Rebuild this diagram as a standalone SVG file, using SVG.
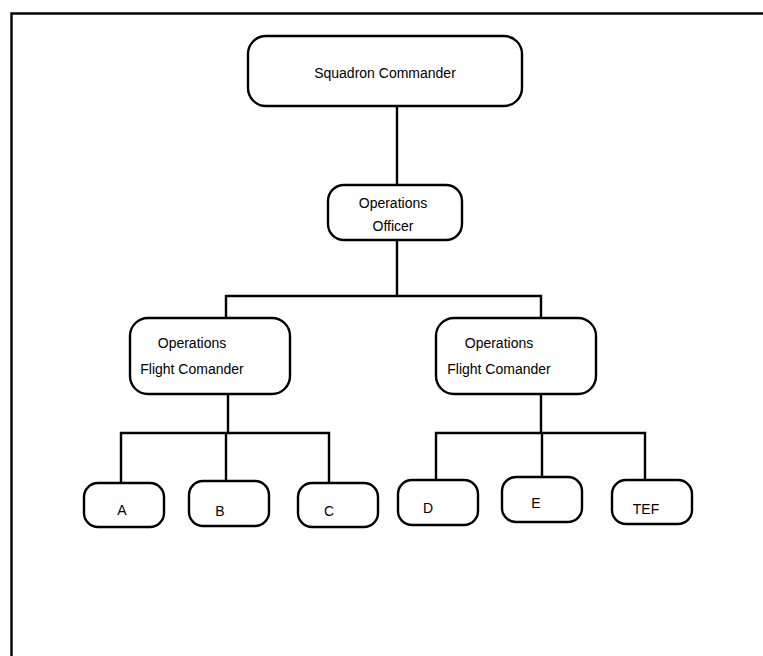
<svg xmlns="http://www.w3.org/2000/svg" width="763" height="656" viewBox="0 0 763 656">
<style>
.box{fill:#fff;stroke:#000;stroke-width:2.4}
.ln{fill:none;stroke:#000;stroke-width:2.4}
text{font-family:"Liberation Sans",Arial,sans-serif;font-size:14px;fill:#000}
</style>
<rect width="763" height="656" fill="#fff"/>
<path class="ln" d="M11.5,656 V13.5 H763" stroke-width="2.5"/>
<g id="connectors">
<path class="ln" d="M397,106 V185"/>
<path class="ln" d="M397,240 V296 M226,318 V296 H541 V318"/>
<path class="ln" d="M228,394 V433 M121,483 V433 H329 V483 M226,433 V481"/>
<path class="ln" d="M541,394 V433 M436,480 V433 H645 V480 M542,433 V477"/>
</g>
<g id="n_sq"><rect class="box" x="248" y="36" width="274" height="70" rx="18"/><text x="385" y="78" text-anchor="middle">Squadron Commander</text></g>
<g id="n_oo"><rect class="box" x="328" y="185" width="134" height="55" rx="16"/><text x="393" y="208" text-anchor="middle">Operations</text><text x="393" y="231" text-anchor="middle">Officer</text></g>
<g id="n_f1"><rect class="box" x="130" y="318" width="160" height="76" rx="18"/><text x="192" y="348" text-anchor="middle">Operations</text><text x="192" y="374" text-anchor="middle">Flight Comander</text></g>
<g id="n_f2"><rect class="box" x="436" y="318" width="160" height="76" rx="18"/><text x="499" y="348" text-anchor="middle">Operations</text><text x="499" y="374" text-anchor="middle">Flight Comander</text></g>
<g id="n_a"><rect class="box" x="84" y="483" width="80" height="44" rx="14"/><text x="122" y="515" text-anchor="middle">A</text></g>
<g id="n_b"><rect class="box" x="189" y="481" width="80" height="45" rx="14"/><text x="220" y="516" text-anchor="middle">B</text></g>
<g id="n_c"><rect class="box" x="298" y="483" width="80" height="44" rx="14"/><text x="329" y="516" text-anchor="middle">C</text></g>
<g id="n_d"><rect class="box" x="398" y="480" width="80" height="45" rx="14"/><text x="428" y="513" text-anchor="middle">D</text></g>
<g id="n_e"><rect class="box" x="502" y="477" width="80" height="45" rx="14"/><text x="536" y="508" text-anchor="middle">E</text></g>
<g id="n_tef"><rect class="box" x="612" y="480" width="80" height="44" rx="14"/><text x="646" y="514" text-anchor="middle">TEF</text></g>
</svg>
